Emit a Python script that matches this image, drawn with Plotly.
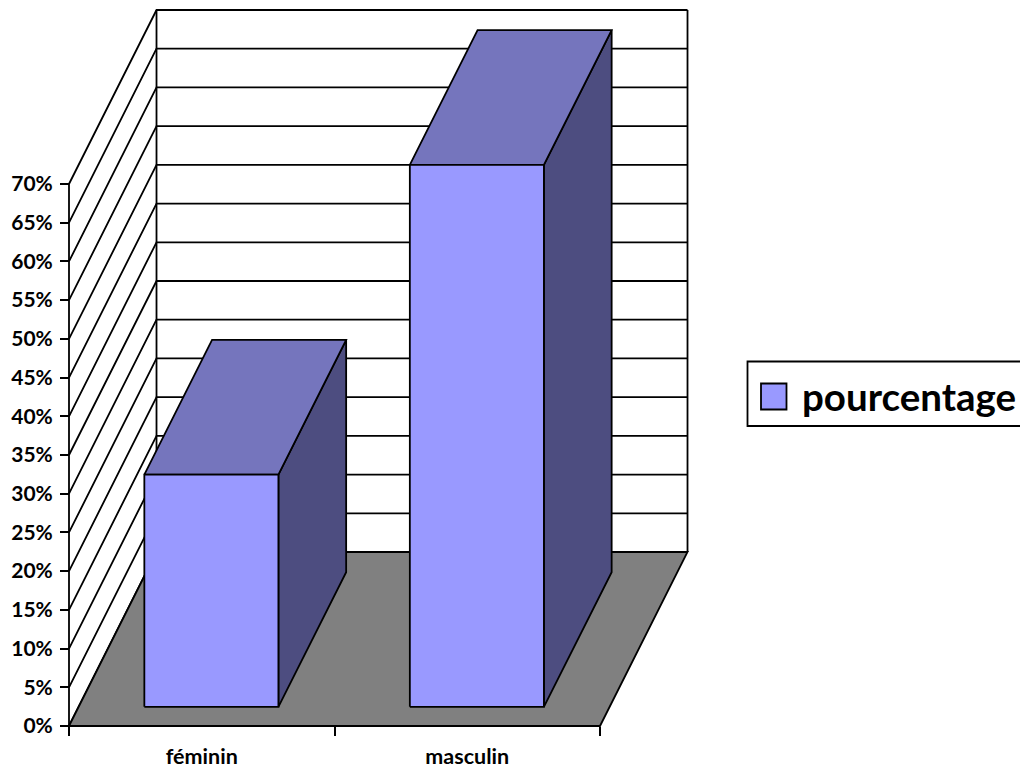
import plotly.graph_objects as go

# Chart data
categories = ["féminin", "masculin"]
pourcentage = [30, 70]
tick_values = [0, 5, 10, 15, 20, 25, 30, 35, 40, 45, 50, 55, 60, 65, 70]
tick_labels = ["0%", "5%", "10%", "15%", "20%", "25%", "30%", "35%", "40%", "45%",
               "50%", "55%", "60%", "65%", "70%"]
series_name = "pourcentage"

# Oblique projection of the 3D box: one unit of depth shifts a point by this much
DEPTH_X = 0.3296
DEPTH_Y = 22.47
BAR_WIDTH = 0.505
BAR_DEPTH_START = 0.11
BAR_DEPTH_END = 0.884
AXIS_MAX = tick_values[-1]
N_CAT = len(categories)

# Page geometry
PAGE_W, PAGE_H = 1020, 767
PX_PER_CAT = 265.5
PX_PER_PCT = 7.743
ORIGIN_X, ORIGIN_Y = 69, 726

FRONT = "#9999FF"
TOP = "#7575BD"
SIDE = "#4D4D80"
FLOOR = "#808080"
INK = "#000000"
LINE_W = 1.8


def project(x, y, depth):
    return x + depth * DEPTH_X, y + depth * DEPTH_Y


def polygon(points, fill=None, width=LINE_W):
    xs, ys = zip(*[project(*p) for p in points])
    closed = fill is not None
    return go.Scatter(
        x=list(xs) + ([xs[0]] if closed else []),
        y=list(ys) + ([ys[0]] if closed else []),
        mode="lines",
        fill="toself" if closed else None,
        fillcolor=fill,
        line=dict(color=INK, width=width),
        hoverinfo="skip",
        showlegend=False,
    )


fig = go.Figure()

# Side and back wall grid lines
for v in tick_values:
    fig.add_trace(polygon([(0, v, 0), (0, v, 1), (N_CAT, v, 1)]))
fig.add_trace(polygon([(0, 0, 0), (0, AXIS_MAX, 0)]))
fig.add_trace(polygon([(0, 0, 1), (0, AXIS_MAX, 1)]))
fig.add_trace(polygon([(N_CAT, 0, 1), (N_CAT, AXIS_MAX, 1)]))

# Floor
fig.add_trace(polygon([(0, 0, 0), (N_CAT, 0, 0), (N_CAT, 0, 1), (0, 0, 1)], fill=FLOOR))

# Bars: side, top and front faces
for i, value in enumerate(pourcentage):
    x0 = i + 0.5 - BAR_WIDTH / 2
    x1 = i + 0.5 + BAR_WIDTH / 2
    d0, d1 = BAR_DEPTH_START, BAR_DEPTH_END
    fig.add_trace(polygon([(x1, 0, d0), (x1, 0, d1), (x1, value, d1), (x1, value, d0)], fill=SIDE))
    fig.add_trace(polygon([(x0, value, d0), (x1, value, d0), (x1, value, d1), (x0, value, d1)], fill=TOP))
    fig.add_trace(polygon([(x0, 0, d0), (x1, 0, d0), (x1, value, d0), (x0, value, d0)], fill=FRONT))


def px(x):
    return x / PAGE_W


def py(y):
    return 1 - y / PAGE_H


# Legend box, swatch and label
legend_shapes = [
    dict(type="rect", xref="paper", yref="paper", x0=px(747.5), x1=px(1030), y0=py(426), y1=py(361.5),
         line=dict(color=INK, width=LINE_W), fillcolor="white"),
    dict(type="rect", xref="paper", yref="paper", x0=px(761), x1=px(786.5), y0=py(409.5), y1=py(383.5),
         line=dict(color=INK, width=LINE_W), fillcolor=FRONT),
]
legend_label = dict(
    xref="paper", yref="paper", x=px(800), y=py(396.5), xanchor="left", yanchor="middle",
    text=series_name, showarrow=False,
    font=dict(size=38.5, family="Lato, sans-serif", weight="bold", color=INK),
)

fig.update_layout(
    width=PAGE_W,
    height=PAGE_H,
    margin=dict(l=0, r=0, t=0, b=0, pad=0, autoexpand=False),
    paper_bgcolor="white",
    plot_bgcolor="rgba(0,0,0,0)",
    font=dict(family="Lato, sans-serif", color=INK),
    showlegend=False,
    shapes=legend_shapes,
    annotations=[legend_label],
    xaxis=dict(
        range=[-ORIGIN_X / PX_PER_CAT, (PAGE_W - ORIGIN_X) / PX_PER_CAT],
        anchor="free",
        position=(PAGE_H - ORIGIN_Y) / PAGE_H,
        automargin=False,
        tickmode="array",
        tickvals=[i + 0.5 for i in range(N_CAT)],
        ticktext=categories,
        ticks="",
        ticklabelstandoff=15,
        minor=dict(tickmode="array", tickvals=list(range(N_CAT + 1)), ticks="outside",
                   ticklen=9, tickwidth=LINE_W, tickcolor=INK, showgrid=False),
        showgrid=False, zeroline=False, showline=False,
        tickfont=dict(size=21.5, weight="bold"),
    ),
    yaxis=dict(
        range=[-(PAGE_H - ORIGIN_Y) / PX_PER_PCT, ORIGIN_Y / PX_PER_PCT],
        anchor="free",
        position=ORIGIN_X / PAGE_W,
        automargin=False,
        tickmode="array",
        tickvals=tick_values,
        ticktext=tick_labels,
        ticks="outside", ticklen=9, tickwidth=LINE_W, tickcolor=INK,
        ticklabelstandoff=3,
        showgrid=False, zeroline=False, showline=False,
        tickfont=dict(size=21, weight="bold"),
    ),
)

fig.write_html("out.html", config=dict(displayModeBar=False))
